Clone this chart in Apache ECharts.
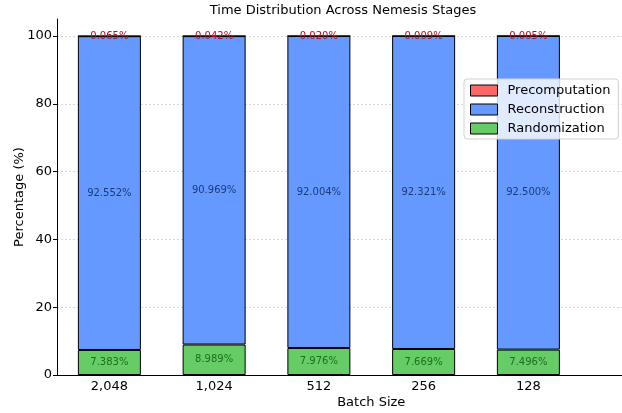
<!DOCTYPE html>
<html><head><meta charset="utf-8">
<script src="https://cdn.jsdelivr.net/npm/echarts@6/dist/echarts.min.js"></script>
<style>html,body{margin:0;padding:0;background:#fff}#c{width:622px;height:413px}</style>
</head><body><div id="c"></div>
<script>
const categories = ['2,048', '1,024', '512', '256', '128'];
const randomization = [7.383, 8.989, 7.976, 7.669, 7.496];
const reconstruction = [92.552, 90.969, 92.004, 92.321, 92.500];
const precomputation = [0.065, 0.042, 0.020, 0.009, 0.005];
const yTicks = [0, 20, 40, 60, 80, 100];

const font = 'DejaVu Sans';
const chart = echarts.init(document.getElementById('c'), null, {renderer: 'canvas'});
const axisCats = categories.concat(['']);
function series(name, data, color, labelColor) {
  return {
    name, type: 'bar', stack: 'all', data, barWidth: 63,
    itemStyle: {color, borderColor: '#000', borderWidth: 1},
    label: {show: true, position: 'inside', fontFamily: font, fontSize: 10,
      color: labelColor, formatter: p => p.value.toFixed(3) + '%'},
    z: 3
  };
}
chart.setOption({
  animation: false,
  title: {text: 'Time Distribution Across Nemesis Stages', left: 338, top: -1, textAlign: 'center',
    textStyle: {fontFamily: font, fontSize: 13, fontWeight: 'normal', color: '#000'}},
  grid: {left: 57, width: 628.5, top: 19, bottom: 38, outerBoundsMode: 'none', containLabel: false},
  legend: {
    data: ['Precomputation', 'Reconstruction', 'Randomization'],
    orient: 'vertical', left: 464, top: 79, itemWidth: 27, itemHeight: 11, itemGap: 6, icon: 'rect',
    padding: [5, 8, 4, 6], backgroundColor: 'rgba(255,255,255,0.8)', borderColor: '#d0d0d0', borderWidth: 1, borderRadius: 3,
    textStyle: {fontFamily: font, fontSize: 13, color: '#000', padding: [0, 0, 0, 5]},
    itemStyle: {borderColor: '#000', borderWidth: 1}
  },
  xAxis: {
    type: 'category', data: axisCats,
    name: 'Batch Size', nameLocation: 'middle', nameGap: 21, nameMoveOverlap: false,
    nameTextStyle: {fontFamily: font, fontSize: 13, color: '#000'},
    axisLine: {lineStyle: {color: '#000', width: 1}},
    axisTick: {alignWithLabel: true, length: 4, lineStyle: {color: '#000'}},
    axisLabel: {fontFamily: font, fontSize: 13, color: '#000', margin: 5, interval: 0},
    splitLine: {show: false}
  },
  yAxis: {
    type: 'value', min: 0, max: 105, interval: 20,
    name: 'Percentage (%)', nameLocation: 'middle', nameGap: 31, nameMoveOverlap: false,
    nameTextStyle: {fontFamily: font, fontSize: 13, color: '#000'},
    axisLine: {show: true, lineStyle: {color: '#000', width: 1}},
    axisTick: {show: true, length: 4, lineStyle: {color: '#000'}},
    axisLabel: {fontFamily: font, fontSize: 13, color: '#000', margin: 5, showMaxLabel: false,
      formatter: v => yTicks.includes(v) ? String(v) : ''},
    splitLine: {show: true, showMaxLine: false, lineStyle: {color: '#cccccc', type: [2, 2], width: 0.8}}
  },
  series: [
    series('Randomization', randomization, '#66cc66', '#1e6e1e'),
    series('Reconstruction', reconstruction, '#6699ff', '#1a3c78'),
    series('Precomputation', precomputation, '#ff6666', '#b01020')
  ]
});
</script></body></html>
